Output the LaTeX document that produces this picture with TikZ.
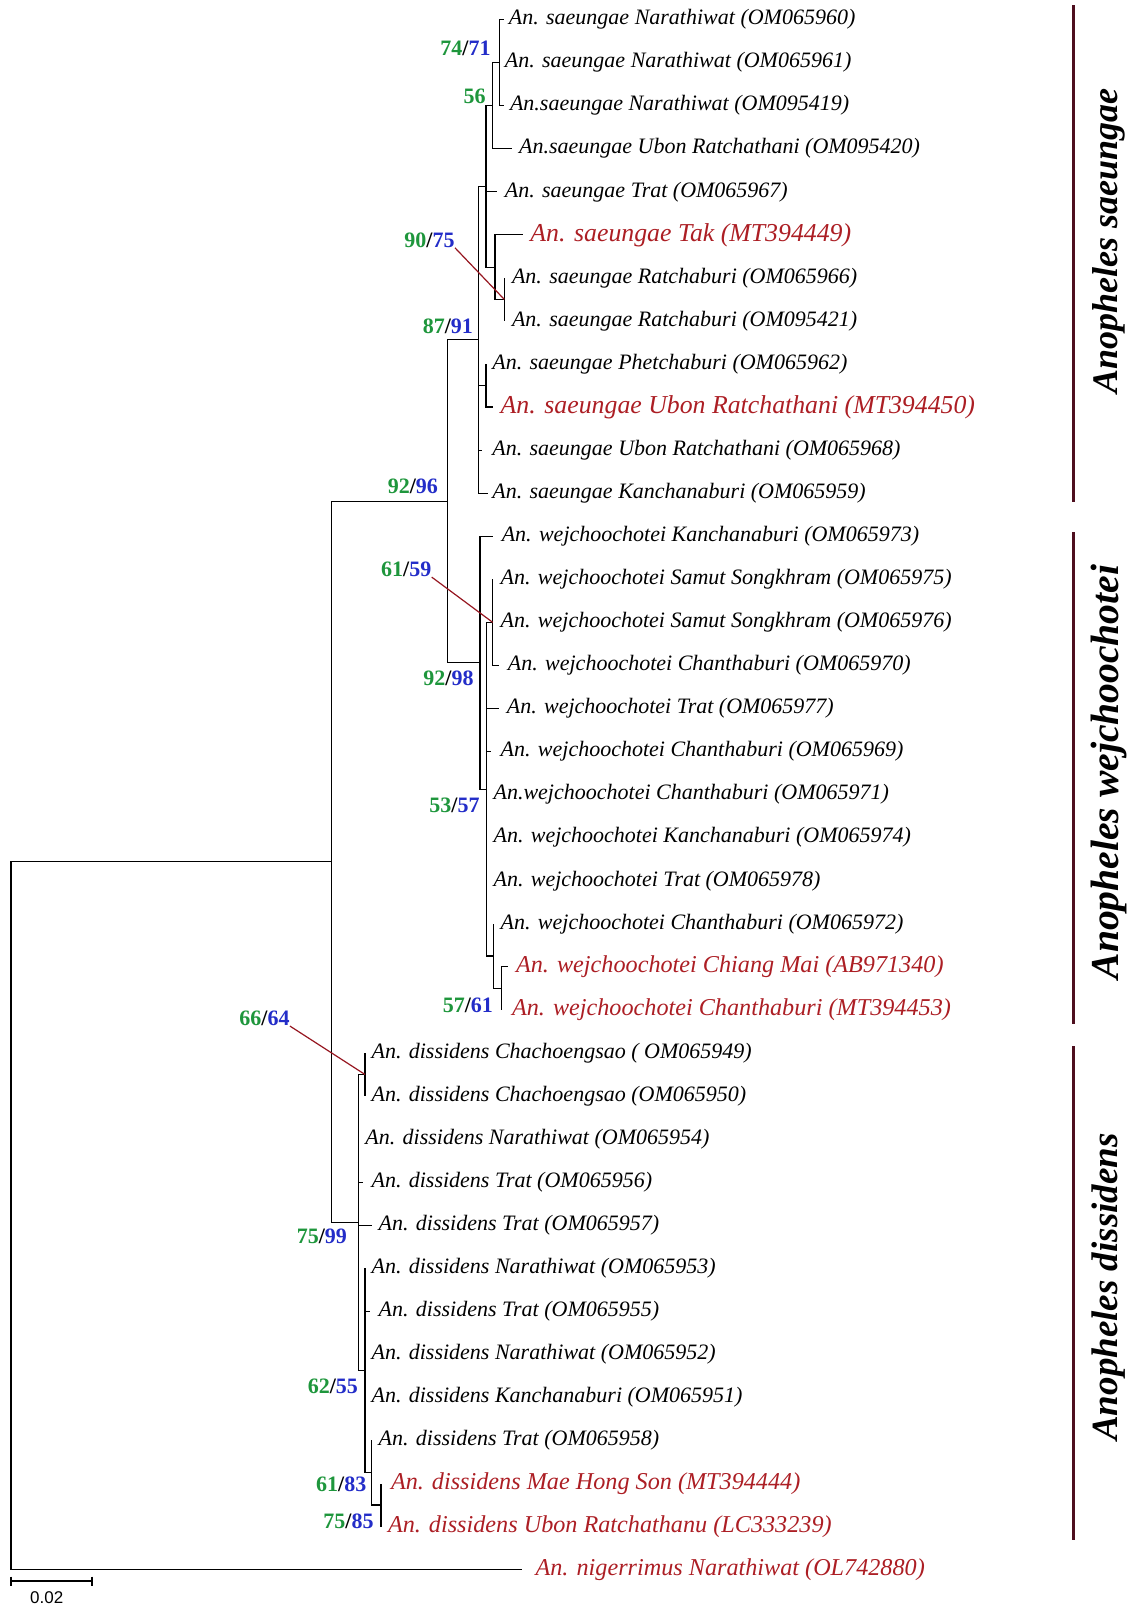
\documentclass[tikz,border=0pt]{standalone}
\usepackage{fontspec}
\setmainfont{Liberation Serif}
\newfontfamily\sansf{Liberation Sans}
\definecolor{sgreen}{RGB}{30,150,60}
\definecolor{sblue}{RGB}{35,45,200}
\definecolor{tred}{RGB}{172,30,36}
\definecolor{tptr}{RGB}{150,22,32}
\definecolor{tbar}{RGB}{78,14,30}
\newcommand\Y[1]{(19.5+43.06*(#1))}
\newcommand\bs[2]{\textcolor{sgreen}{#1}/\textcolor{sblue}{#2}}
\begin{document}
\begin{tikzpicture}[x=0.5pt,y=-0.5pt,
  br/.style={line width=0.6pt,black},
  leaf/.style={anchor=west,inner sep=0pt,font=\fontsize{11}{13}\selectfont\itshape},
  redleaf/.style={anchor=west,inner sep=0pt,font=\fontsize{12.9}{15}\selectfont\itshape,text=tred},
  redleafs/.style={anchor=west,inner sep=0pt,font=\fontsize{12.1}{14}\selectfont\itshape,text=tred},
  sup/.style={anchor=east,inner sep=0pt,font=\fontsize{11}{13}\selectfont\bfseries},
  ptr/.style={line width=0.6pt,draw=tptr},
  cbar/.style={line width=1.6pt,draw=tbar},
  clade/.style={rotate=90,inner sep=0pt}]
\useasboundingbox (0,0) rectangle (1134,1607);
% ---------- internal nodes ----------
\coordinate (n7471) at (499.3,{\Y{1}});
\coordinate (n56)   at (492.7,{\Y{2}});
\coordinate (nTR)   at (504.3,{\Y{6.5}});
\coordinate (nTak)  at (495,{\Y{5.75}});
\coordinate (nA)    at (486,{\Y{3.875}});
\coordinate (nPU)   at (486,{\Y{8.5}});
\coordinate (n8791) at (478.3,{\Y{7.4375}});
\coordinate (n6159) at (492.7,{\Y{14}});
\coordinate (n5761) at (501.7,{\Y{22.5}});
\coordinate (nW2)   at (493.3,{\Y{21.75}});
\coordinate (n5357) at (486.7,{\Y{17.875}});
\coordinate (n9298) at (480,{\Y{14.9375}});
\coordinate (n9296) at (447.7,{\Y{11.1875}});
\coordinate (n6664) at (365,{\Y{24.5}});
\coordinate (n7585) at (381,{\Y{34.5}});
\coordinate (n6183) at (371.7,{\Y{33.75}});
\coordinate (n6255) at (365,{\Y{31.375}});
\coordinate (n7599) at (358.3,{\Y{27.9375}});
\coordinate (nIn)   at (331.7,{\Y{19.5625}});
\coordinate (root)  at (11,{\Y{27.78125}});
% ---------- tips ----------
\foreach \i/\x in {0/504.3,1/499.3,2/504.3,3/511.7,4/496.7,5/523.3,6/504.3,7/504.3,8/486,9/493.3,10/481.7,11/488.3,
  12/492.7,13/492.7,14/492.7,15/499.3,16/499.3,17/490.5,18/486.7,19/486.7,20/486.7,21/493.3,22/508.3,23/501.7,
  24/365,25/365,26/358.3,27/363.3,28/371.7,29/365,30/370,31/365,32/365,33/371.7,34/381,35/381,36/521.7}
  {\coordinate (t\i) at (\x,{\Y{\i}});}
% ---------- branches ----------
\draw[br] (n7471) |- (t0) (n7471) |- (t1) (n7471) |- (t2);
\draw[br] (n56) |- (n7471) (n56) |- (t3);
\draw[br] (nTR) |- (t6) (nTR) |- (t7);
\draw[br] (nTak) |- (t5) (nTak) |- (nTR);
\draw[br] (nA) |- (n56) (nA) |- (t4) (nA) |- (nTak);
\draw[br] (nPU) |- (t8) (nPU) |- (t9);
\draw[br] (n8791) |- (nA) (n8791) |- (nPU) (n8791) |- (t10) (n8791) |- (t11);
\draw[br] (n6159) |- (t13) (n6159) |- (t14) (n6159) |- (t15);
\draw[br] (n5761) |- (t22) (n5761) |- (t23);
\draw[br] (nW2) |- (t21) (nW2) |- (n5761);
\draw[br] (n5357) |- (n6159) (n5357) |- (t16) (n5357) |- (t17) (n5357) |- (t18)
          (n5357) |- (t19) (n5357) |- (t20) (n5357) |- (nW2);
\draw[br] (n9298) |- (t12) (n9298) |- (n5357);
\draw[br] (n9296) |- (n8791) (n9296) |- (n9298);
\draw[br] (n6664) |- (t24) (n6664) |- (t25);
\draw[br] (n7585) |- (t34) (n7585) |- (t35);
\draw[br] (n6183) |- (t33) (n6183) |- (n7585);
\draw[br] (n6255) |- (t29) (n6255) |- (t30) (n6255) |- (t31) (n6255) |- (t32) (n6255) |- (n6183);
\draw[br] (n7599) |- (n6664) (n7599) |- (t26) (n7599) |- (t27) (n7599) |- (t28) (n7599) |- (n6255);
\draw[br] (nIn) |- (n9296) (nIn) |- (n7599);
\draw[br] (root) |- (nIn) (root) |- (t36);
% ---------- leaf labels ----------
\node[leaf] (L0) at (508.5,{\Y{0}}) {An. saeungae Narathiwat (OM065960)};
\node[leaf] (L1) at (504.5,{\Y{1}}) {An. saeungae Narathiwat (OM065961)};
\node[leaf] (L2) at (509.6,{\Y{2}}) {An.saeungae Narathiwat (OM095419)};
\node[leaf] (L3) at (518.8,{\Y{3}}) {An.saeungae Ubon Ratchathani (OM095420)};
\node[leaf] (L4) at (504.5,{\Y{4}}) {An. saeungae Trat (OM065967)};
\node[redleaf] (L5) at (530,{\Y{5}}) {An. saeungae Tak (MT394449)};
\node[leaf] (L6) at (511.6,{\Y{6}}) {An. saeungae Ratchaburi (OM065966)};
\node[leaf] (L7) at (511.6,{\Y{7}}) {An. saeungae Ratchaburi (OM095421)};
\node[leaf] (L8) at (492,{\Y{8}}) {An. saeungae Phetchaburi (OM065962)};
\node[redleaf] (L9) at (500.3,{\Y{9}}) {An. saeungae Ubon Ratchathani (MT394450)};
\node[leaf] (L10) at (492,{\Y{10}}) {An. saeungae Ubon Ratchathani (OM065968)};
\node[leaf] (L11) at (492,{\Y{11}}) {An. saeungae Kanchanaburi (OM065959)};
\node[leaf] (L12) at (501.4,{\Y{12}}) {An. wejchoochotei Kanchanaburi (OM065973)};
\node[leaf] (L13) at (500.3,{\Y{13}}) {An. wejchoochotei Samut Songkhram (OM065975)};
\node[leaf] (L14) at (500.3,{\Y{14}}) {An. wejchoochotei Samut Songkhram (OM065976)};
\node[leaf] (L15) at (507.5,{\Y{15}}) {An. wejchoochotei Chanthaburi (OM065970)};
\node[leaf] (L16) at (506.5,{\Y{16}}) {An. wejchoochotei Trat (OM065977)};
\node[leaf] (L17) at (500.3,{\Y{17}}) {An. wejchoochotei Chanthaburi (OM065969)};
\node[leaf] (L18) at (493.2,{\Y{18}}) {An.wejchoochotei Chanthaburi (OM065971)};
\node[leaf] (L19) at (493.2,{\Y{19}}) {An. wejchoochotei Kanchanaburi (OM065974)};
\node[leaf] (L20) at (493.2,{\Y{20}}) {An. wejchoochotei Trat (OM065978)};
\node[leaf] (L21) at (500.3,{\Y{21}}) {An. wejchoochotei Chanthaburi (OM065972)};
\node[redleafs] (L22) at (515.7,{\Y{22}}) {An. wejchoochotei Chiang Mai (AB971340)};
\node[redleafs] (L23) at (511.6,{\Y{23}}) {An. wejchoochotei Chanthaburi (MT394453)};
\node[leaf] (L24) at (371.2,{\Y{24}}) {An. dissidens Chachoengsao ( OM065949)};
\node[leaf] (L25) at (371.2,{\Y{25}}) {An. dissidens Chachoengsao (OM065950)};
\node[leaf] (L26) at (365,{\Y{26}}) {An. dissidens Narathiwat (OM065954)};
\node[leaf] (L27) at (371.2,{\Y{27}}) {An. dissidens Trat (OM065956)};
\node[leaf] (L28) at (378.3,{\Y{28}}) {An. dissidens Trat (OM065957)};
\node[leaf] (L29) at (371.2,{\Y{29}}) {An. dissidens Narathiwat (OM065953)};
\node[leaf] (L30) at (378.3,{\Y{30}}) {An. dissidens Trat (OM065955)};
\node[leaf] (L31) at (371.2,{\Y{31}}) {An. dissidens Narathiwat (OM065952)};
\node[leaf] (L32) at (371.2,{\Y{32}}) {An. dissidens Kanchanaburi (OM065951)};
\node[leaf] (L33) at (378.3,{\Y{33}}) {An. dissidens Trat (OM065958)};
\node[redleafs] (L34) at (390.6,{\Y{34}}) {An. dissidens Mae Hong Son (MT394444)};
\node[redleafs] (L35) at (387.6,{\Y{35}}) {An. dissidens Ubon Ratchathanu (LC333239)};
\node[redleafs] (L36) at (535.2,{\Y{36}}) {An. nigerrimus Narathiwat (OL742880)};
% ---------- support values ----------
\node[sup] (s7471) at (491,48.3) {\bs{74}{71}};
\node[sup] (s56) at (486,96.7) {\textcolor{sgreen}{56}};
\node[sup] (s9075) at (455,240) {\bs{90}{75}};
\node[sup] (s8791) at (473.3,326.7) {\bs{87}{91}};
\node[sup] (s9296) at (438.3,486.7) {\bs{92}{96}};
\node[sup] (s6159) at (431.7,569.3) {\bs{61}{59}};
\node[sup] (s9298) at (474,678.3) {\bs{92}{98}};
\node[sup] (s5357) at (480,805) {\bs{53}{57}};
\node[sup] (s5761) at (493.3,1005) {\bs{57}{61}};
\node[sup] (s6664) at (290,1018.3) {\bs{66}{64}};
\node[sup] (s7599) at (347.3,1236.7) {\bs{75}{99}};
\node[sup] (s6255) at (358.3,1386) {\bs{62}{55}};
\node[sup] (s6183) at (366.7,1484) {\bs{61}{83}};
\node[sup] (s7585) at (374,1521.7) {\bs{75}{85}};
% ---------- pointer lines ----------
\draw[ptr] (s9075.south east) -- (nTR);
\draw[ptr] (s6159.south east) -- (n6159);
\draw[ptr] (s6664.south east) -- (n6664);
% ---------- clade bars ----------
\coordinate (b1t) at (1073.5,5);    \coordinate (b1b) at (1073.5,502);
\coordinate (b2t) at (1073.5,532);  \coordinate (b2b) at (1073.5,1024);
\coordinate (b3t) at (1073.5,1046); \coordinate (b3b) at (1073.5,1540);
\draw[cbar] (b1t) -- (b1b);
\draw[cbar] (b2t) -- (b2b);
\draw[cbar] (b3t) -- (b3b);
\node[clade,font=\fontsize{18}{22}\selectfont\bfseries\itshape] (c1) at (1109,241) {Anopheles saeungae};
\node[clade,font=\fontsize{19.8}{24}\selectfont\bfseries\itshape] (c2) at (1109,772) {Anopheles wejchoochotei};
\node[clade,font=\fontsize{18.5}{22}\selectfont\bfseries\itshape] (c3) at (1109,1287) {Anopheles dissidens};
% ---------- scale bar ----------
\coordinate (sbL) at (11,1581);
\coordinate (sbR) at (91.7,1581);
\draw[line width=1pt] (sbL) -- (sbR);
\draw[line width=1pt] (sbL) ++(0,-4.5) -- ++(0,9);
\draw[line width=1pt] (sbR) ++(0,-4.5) -- ++(0,9);
\node[inner sep=0pt,font=\sansf\fontsize{8.5}{10}\selectfont] (sblab) at (46.7,1598) {0.02};
\end{tikzpicture}
\end{document}
